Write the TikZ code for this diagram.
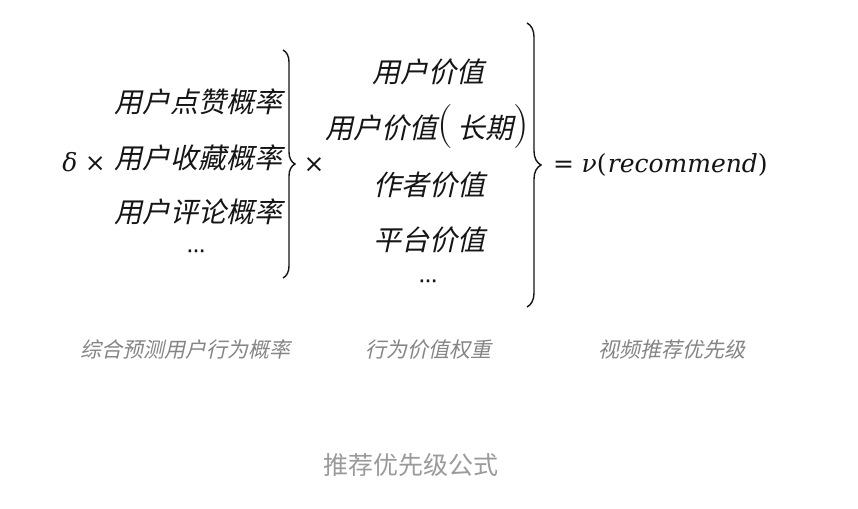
\documentclass[tikz,border=0pt]{standalone}
\usepackage{fontspec}
\usetikzlibrary{decorations.pathreplacing}
\newfontfamily\cjk{Noto Sans CJK SC}
\newfontfamily\cjkit{Noto Sans CJK SC}[FakeSlant=0.22]
\newfontfamily\dotfont{Liberation Sans}[FakeBold=1]
\newfontfamily\dvs{DejaVu Serif}
\newfontfamily\dvsit{DejaVu Serif Italic}
\definecolor{ink}{HTML}{151515}
\definecolor{capgray}{HTML}{858585}
\definecolor{titlegray}{HTML}{9A9A9A}
\newcommand{\tallparen}[1]{\raisebox{0.02em}{\normalfont\fontsize{44}{44}\selectfont#1}}
\tikzset{
  term/.style={inner sep=0pt, text=ink, font=\cjkit\fontsize{28}{32}\selectfont},
  mathterm/.style={inner sep=0pt, text=ink, font=\dvs\fontsize{25}{30}\selectfont},
  eqterm/.style={inner sep=0pt, text=ink, font=\dvs\fontsize{25}{30}\selectfont},
  dotterm/.style={inner sep=0pt, text=ink, font=\dotfont\fontsize{22}{24}\selectfont, anchor=base},
  captext/.style={inner sep=0pt, text=capgray, font=\cjkit\fontsize{21}{24}\selectfont},
  titletext/.style={inner sep=0pt, text=titlegray, font=\cjk\fontsize{25}{28}\selectfont},
  bracepath/.style={draw=ink, line width=1.4pt, decorate, decoration={brace, amplitude=#1}},
}
\begin{document}
\begin{tikzpicture}[x=1pt,y=-1pt]
\useasboundingbox (0,0) rectangle (858,508);
\fill[white] (0,0) rectangle (858,508);
% left column
\node[term, anchor=east] (l1) at (283,102) {用户点赞概率};
\node[term, anchor=east] (l2) at (283,158) {用户收藏概率};
\node[term, anchor=east] (l3) at (283,212) {用户评论概率};
\node[dotterm] (ldots) at (196,252) {...};
\node[mathterm, anchor=east] (delta) at (106,162) {{\dvsit δ}\hspace{0.3em}×};
% left brace
\coordinate (lb1) at (283,50);
\coordinate (lb2) at (283,278);
\draw[bracepath=12pt] (lb1) -- (lb2);
\node[mathterm] (times) at (314,165) {×};
% middle column
\node[term] (m1) at (428,72) {用户价值};
\node[term] (m2) at (427,127) {用户价值\tallparen{(}\hspace{0.15em}长期\tallparen{)}};
\node[term] (m3) at (429,185) {作者价值};
\node[term] (m4) at (429,240) {平台价值};
\node[dotterm] (mdots) at (428,282) {...};
% big brace
\coordinate (bb1) at (527,23);
\coordinate (bb2) at (527,307);
\draw[bracepath=14pt] (bb1) -- (bb2);
\node[eqterm, anchor=west] (eq) at (553,165) {=\hspace{0.3em}{\dvsit ν}(\hspace{0.05em}{\dvsit recommend})};
% captions
\node[captext] (c1) at (185,350) {综合预测用户行为概率};
\node[captext] (c2) at (428,350) {行为价值权重};
\node[captext] (c3) at (672,350) {视频推荐优先级};
\node[titletext] (title) at (411,465) {推荐优先级公式};
\end{tikzpicture}
\end{document}
